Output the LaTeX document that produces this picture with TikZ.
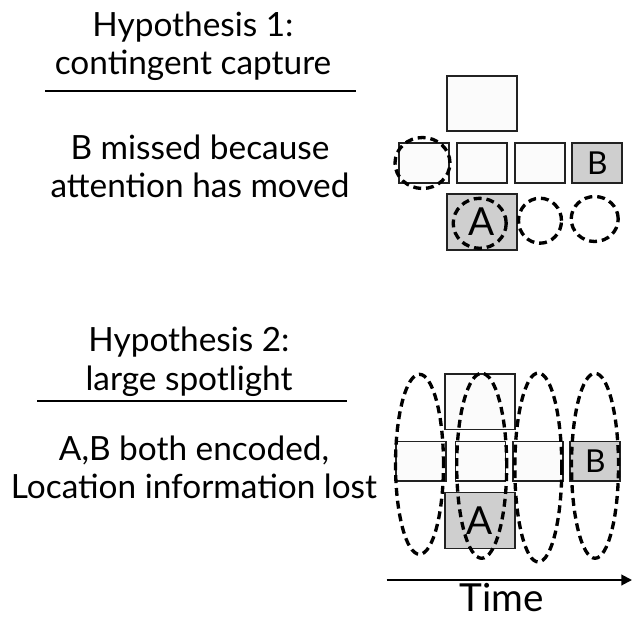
\documentclass[tikz,border=0pt]{standalone}
\usepackage{fontspec}
\setmainfont{Lato}
\usetikzlibrary{arrows.meta,shapes.geometric}
\definecolor{boxwhite}{HTML}{FBFBFB}
\definecolor{boxgray}{HTML}{CFCFCF}
\definecolor{edgegray}{HTML}{222222}

\begin{document}
\begin{tikzpicture}[x=0.02cm, y=-0.02cm,
  cell/.style={draw=edgegray, line width=1pt, fill=boxwhite, inner sep=0pt, minimum width=1.0cm, minimum height=0.79cm},
  bigcell/.style={cell, minimum width=1.4cm, minimum height=1.11cm},
  target/.style={fill=boxgray},
  spot/.style={draw, ellipse, line width=1.9pt, dash pattern=on 4.5pt off 2.8pt, inner sep=0pt},
  txt/.style={font=\fontsize{19}{21.8}\selectfont, align=center, anchor=base, inner sep=0pt},
  rule/.style={line width=1.1pt}]
\useasboundingbox (0,0) rectangle (635,618);
% hypothesis 1 text (base = last line)
\node[txt] (hyp1) at (193,75) {Hypothesis 1:\\contingent capture};
\draw[rule] (45,90.7) -- (356,90.7);
\node[txt] (miss) at (200,197.7) {B missed because\\attention has moved};
% hypothesis 1 display
\node[bigcell] (up1) at (481.7,103.5) {};
\node[cell] (r11) at (424.2,163) {};
\node[cell] (r12) at (481.7,163) {};
\node[cell] (r13) at (540,163) {};
\node[cell, target, font=\fontsize{18}{18}\selectfont] (b1) at (597.3,163) {B};
\node[bigcell, target, minimum height=1.12cm, font=\fontsize{22}{22}\selectfont] (a1) at (481.7,222) {A};
\node[spot, minimum width=1.1cm, minimum height=1.02cm] (s11) at (422.5,163) {};
\node[spot, minimum width=1.06cm, minimum height=1.0cm] (s12) at (479.7,223.3) {};
\node[spot, minimum width=0.86cm, minimum height=0.9cm] (s13) at (540,220.7) {};
\node[spot, minimum width=0.94cm, minimum height=0.9cm] (s14) at (594.7,219) {};
% hypothesis 2 text
\node[txt] (hyp2) at (189,390) {Hypothesis 2:\\large spotlight};
\draw[rule] (37,400.7) -- (347,400.7);
\node[txt] (both) at (194,498.3) {A,B both encoded,\\Location information lost};
% hypothesis 2 display
\node[bigcell] (up2) at (480,401.7) {};
\node[cell] (r21) at (420.8,461.3) {};
\node[cell] (r22) at (480.5,461.3) {};
\node[cell] (r23) at (538.3,461.3) {};
\node[cell, target, font=\fontsize{18}{18}\selectfont] (b2) at (595.3,461.3) {B};
\node[bigcell, target, minimum height=1.12cm, font=\fontsize{22}{22}\selectfont] (a2) at (480,520.5) {A};
\node[spot, minimum width=0.96cm, minimum height=3.6cm] (s21) at (419.5,464.3) {};
\node[spot, minimum width=1.0cm, minimum height=3.7cm] (s22) at (481.7,465.8) {};
\node[spot, minimum width=0.94cm, minimum height=3.78cm] (s23) at (538.3,467.5) {};
\node[spot, minimum width=0.94cm, minimum height=3.7cm] (s24) at (595,465.8) {};
% time axis
\coordinate (t0) at (386.7,580);
\coordinate (t1) at (632,580);
\draw[line width=1.1pt, -{Triangle[length=6pt,width=6pt]}] (t0) -- (t1);
\node[txt, font=\fontsize{22}{22}\selectfont] (time) at (502,611) {Time};
\end{tikzpicture}
\end{document}
